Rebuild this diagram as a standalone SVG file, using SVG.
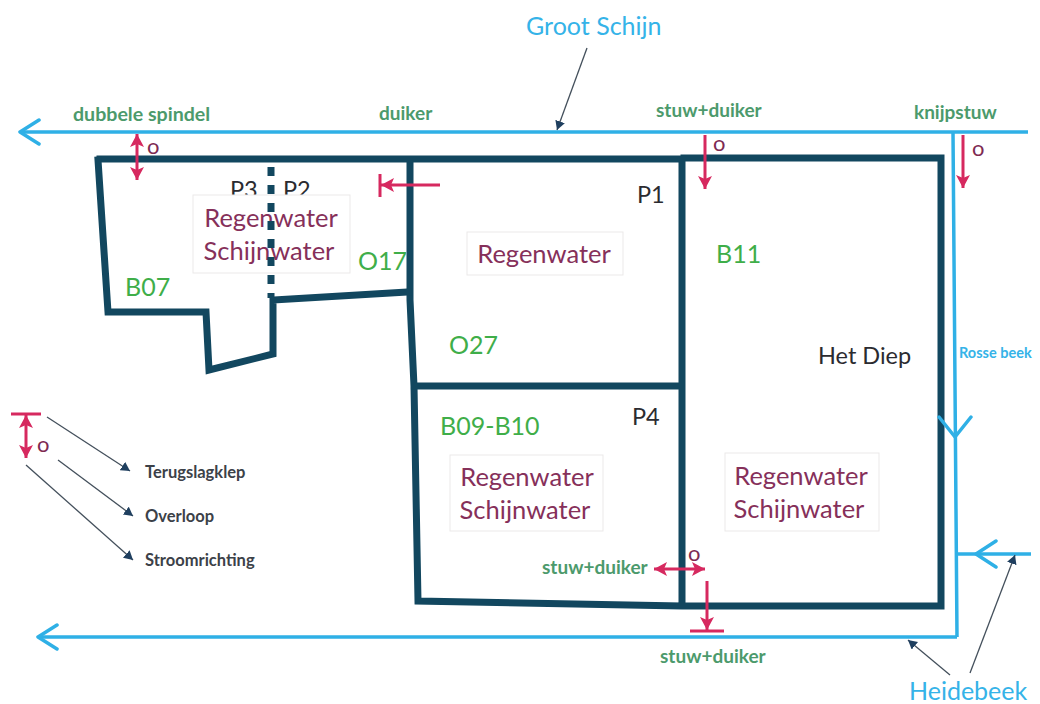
<svg xmlns="http://www.w3.org/2000/svg" width="1040" height="704" viewBox="0 0 1040 704">
<style>
text{font-family:"Lato","Open Sans","Liberation Sans",sans-serif}
.wall{fill:none;stroke:#12475f;stroke-width:7;stroke-linejoin:miter;stroke-linecap:square}
.dots{fill:none;stroke:#12475f;stroke-width:7;stroke-dasharray:9 9}
.water{fill:none;stroke:#2fb0e6;stroke-width:3.5}
.head{fill:none;stroke:#2fb0e6;stroke-width:3.5;stroke-linecap:round;stroke-linejoin:round}
.flow{fill:none;stroke:#d6295f;stroke-width:3}
.lead{fill:none;stroke:#44505c;stroke-width:1.3}
.box{fill:#fff;stroke:#ebe9e9;stroke-width:1}
.g{fill:#4c9a6c;font-size:19px;font-weight:700}
.b{fill:#3fae49;font-size:25px}
.m{fill:#86305a;font-size:25.5px;text-anchor:middle}
.k{fill:#2b2b30;font-size:23.5px}
.o{fill:#7e2a52;font-size:22px}
.l{fill:#3c4148;font-size:16.5px;font-weight:700}
.c{fill:#35b3e8}
</style>
<defs>
<marker id="pink" markerWidth="16" markerHeight="16" refX="14" refY="8" orient="auto-start-reverse" markerUnits="userSpaceOnUse"><path d="M1 1 L14 8 L1 15 L4 8Z" fill="#d6295f"/></marker>
<marker id="dark" markerWidth="11" markerHeight="11" refX="9" refY="5" orient="auto" markerUnits="userSpaceOnUse"><path d="M0 0 L9 5 L0 10Z" fill="#1f3f5f"/></marker>
</defs>
<rect width="1040" height="704" fill="#fff"/>
<g id="parcel-names">
<text class="k" x="230" y="198">P3</text>
<text class="k" x="283" y="198">P2</text>
<text class="k" x="637" y="203">P1</text>
<text class="k" x="632" y="425">P4</text>
<text class="k" x="818" y="364">Het Diep</text>
</g>
<g id="node-p2p3">
<rect class="box" x="193" y="195" width="157" height="78"/>
<text class="m" x="271" y="227">Regenwater</text>
<text class="m" x="269" y="260">Schijnwater</text>
</g>
<g id="node-p1">
<rect class="box" x="467" y="232" width="156" height="43"/>
<text class="m" x="544" y="263">Regenwater</text>
</g>
<g id="node-p4">
<rect class="box" x="450" y="455" width="153" height="76"/>
<text class="m" x="527" y="486">Regenwater</text>
<text class="m" x="525" y="519">Schijnwater</text>
</g>
<g id="node-het-diep">
<rect class="box" x="725" y="453" width="154" height="78"/>
<text class="m" x="801" y="485">Regenwater</text>
<text class="m" x="799" y="518">Schijnwater</text>
</g>
<g id="connectors">
<path class="wall" d="M100 159H682M684 158H941V606M410 160V300L414 386L418 601L682 606L941 606M682 160V606M414 386H682"/>
<path class="wall" d="M98 160L108 312H206L209 370L273 354V300L408 292"/>
<path class="dots" d="M271 167V298"/>
<path class="water" d="M20 132H1028M953 132L957 637M38 637H957M958 554H1031"/>
<path class="head" d="M39 120L20 132L39 144M57 625L38 637L57 649M939 417L955 437L971 417M996 541L976 554L996 567"/>
<path class="flow" marker-start="url(#pink)" marker-end="url(#pink)" d="M137 134V180"/>
<path class="flow" marker-end="url(#pink)" d="M440 185H381"/>
<path class="flow" d="M380 174V197"/>
<path class="flow" marker-end="url(#pink)" d="M705 135V189"/>
<path class="flow" marker-end="url(#pink)" d="M963 135V188"/>
<path class="flow" marker-start="url(#pink)" marker-end="url(#pink)" d="M654 569H705"/>
<path class="flow" marker-end="url(#pink)" d="M707 581V630"/>
<path class="flow" d="M690 631H724"/>
<path class="flow" marker-start="url(#pink)" marker-end="url(#pink)" d="M26 415V458"/>
<path class="flow" d="M11 414H41"/>
<path class="lead" marker-end="url(#dark)" d="M587 48L557 130"/>
<path class="lead" marker-end="url(#dark)" d="M47 417L130 471"/>
<path class="lead" marker-end="url(#dark)" d="M58 460L133 516"/>
<path class="lead" marker-end="url(#dark)" d="M26 465L133 560"/>
<path class="lead" marker-end="url(#dark)" d="M950 675L908 640"/>
<path class="lead" marker-end="url(#dark)" d="M970 673L1015 555"/>
</g>
<g id="labels">
<text class="c" x="526" y="35" font-size="25">Groot Schijn</text>
<text class="g" x="73" y="121" style="font-size:19.6px">dubbele spindel</text>
<text class="g" x="379" y="120">duiker</text>
<text class="g" x="656" y="117">stuw+duiker</text>
<text class="g" x="914" y="119">knijpstuw</text>
<text class="o" x="147" y="154">o</text>
<text class="o" x="713" y="151">o</text>
<text class="o" x="972" y="156">o</text>
<text class="o" x="688" y="561">o</text>
<text class="o" x="37" y="452">o</text>
<text class="b" x="125" y="296">B07</text>
<text class="b" x="358" y="270">O17</text>
<text class="b" x="449" y="354">O27</text>
<text class="b" x="716" y="263">B11</text>
<text class="b" x="440" y="435">B09-B10</text>
<text class="c" x="959" y="358" font-size="14.5" font-weight="700">Rosse beek</text>
<text class="l" x="145" y="478">Terugslagklep</text>
<text class="l" x="145" y="522">Overloop</text>
<text class="l" x="145" y="566">Stroomrichting</text>
<text class="g" x="542" y="574">stuw+duiker</text>
<text class="g" x="660" y="663">stuw+duiker</text>
<text class="c" x="909" y="700" font-size="25">Heidebeek</text>
</g>
</svg>
